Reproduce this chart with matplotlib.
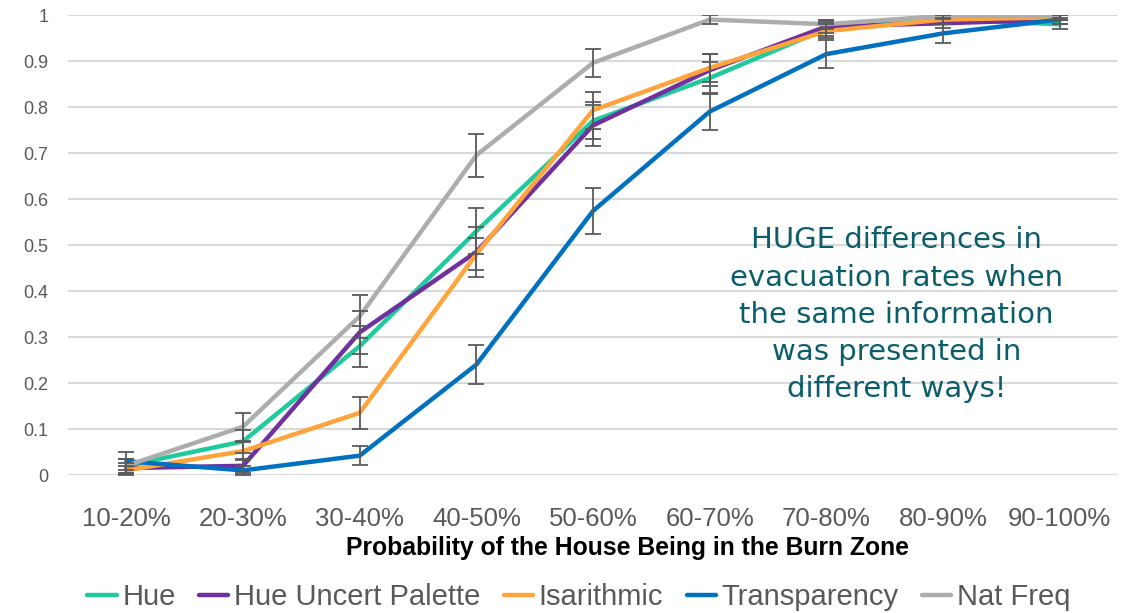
import matplotlib
matplotlib.use("Agg")
import matplotlib.pyplot as plt
from matplotlib.lines import Line2D

categories = ["10-20%", "20-30%", "30-40%", "40-50%", "50-60%",
              "60-70%", "70-80%", "80-90%", "90-100%"]

hue = [0.020, 0.073, 0.280, 0.530, 0.770, 0.863, 0.970, 0.990, 0.980]
hue_err = [0.015, 0.025, 0.045, 0.050, 0.040, 0.035, 0.015, 0.010, 0.010]

hue_uncert = [0.015, 0.020, 0.310, 0.485, 0.760, 0.880, 0.975, 0.982, 0.990]
hue_uncert_err = [0.012, 0.015, 0.047, 0.055, 0.045, 0.035, 0.015, 0.010, 0.010]

isarithmic = [0.010, 0.052, 0.135, 0.480, 0.793, 0.885, 0.965, 0.990, 0.995]
isarithmic_err = [0.010, 0.020, 0.035, 0.035, 0.040, 0.030, 0.015, 0.010, 0.005]

transparency = [0.030, 0.010, 0.042, 0.240, 0.574, 0.790, 0.915, 0.960, 0.990]
transparency_err = [0.020, 0.010, 0.020, 0.043, 0.050, 0.040, 0.030, 0.020, 0.010]

nat_freq = [0.020, 0.105, 0.345, 0.695, 0.896, 0.990, 0.980, 0.998, 0.998]
nat_freq_err = [0.015, 0.030, 0.047, 0.047, 0.030, 0.010, 0.010, 0.005, 0.005]

series_names = ["Hue", "Hue Uncert Palette", "Isarithmic", "Transparency", "Nat Freq"]
series_vals = [hue, hue_uncert, isarithmic, transparency, nat_freq]
series_errs = [hue_err, hue_uncert_err, isarithmic_err, transparency_err, nat_freq_err]
colors = ["#1fcb9c", "#7030a0", "#ffa43c", "#0070c0", "#adadad"]

y_ticks = [0, 0.1, 0.2, 0.3, 0.4, 0.5, 0.6, 0.7, 0.8, 0.9, 1]
y_tick_labels = ["0", "0.1", "0.2", "0.3", "0.4", "0.5", "0.6", "0.7", "0.8", "0.9", "1"]

note = ("HUGE differences in\nevacuation rates when\nthe same information\n"
        "was presented in\ndifferent ways!")

TEXT_GREY = "#595959"
SANS = ["Liberation Sans", "DejaVu Sans"]

fig = plt.figure(figsize=(11.27, 6.13), dpi=100)
ax = fig.add_axes([68 / 1127, 1 - 475 / 613, (1118 - 68) / 1127, (475 - 15) / 613])

x = list(range(len(categories)))
for name, vals, errs, col in zip(series_names, series_vals, series_errs, colors):
    ax.plot(x, vals, color=col, lw=3.2, solid_capstyle="round",
            solid_joinstyle="round", zorder=3)
    ax.errorbar(x, vals, yerr=errs, fmt="none", ecolor="#5a5a5a",
                elinewidth=1.3, capsize=5.5, capthick=1.3, zorder=4)

ax.set_xlim(-0.5, len(categories) - 0.5)
ax.set_ylim(0, 1)
ax.set_yticks(y_ticks)
ax.set_yticklabels(y_tick_labels, fontsize=13, color=TEXT_GREY, family=SANS)
ax.set_xticks(x)
ax.set_xticklabels(categories, fontsize=18.5, color=TEXT_GREY, family=SANS)
ax.tick_params(axis="both", length=0)
ax.tick_params(axis="y", pad=14)
ax.tick_params(axis="x", pad=23)
ax.grid(axis="y", color="#d9d9d9", lw=1.5, zorder=0)
ax.set_axisbelow(True)
for sp in ax.spines.values():
    sp.set_visible(False)

ax.set_xlabel("Probability of the House Being in the Burn Zone",
              fontsize=17.8, fontweight="bold", color="black", family=SANS,
              labelpad=6)
ax.xaxis.set_label_coords((628 - 68) / 1050, -(548 - 475) / 460)
ax.xaxis.label.set_va("center")

ax.text(6.6, 0.348, note, ha="center", va="center", fontsize=21,
        color="#0b5d6b", linespacing=1.42, family="DejaVu Sans", zorder=5)

handles = [Line2D([0], [0], color=c, lw=3.2, solid_capstyle="round") for c in colors]
fig.legend(handles, series_names, loc="center",
           bbox_to_anchor=(579 / 1127, 1 - 597 / 613),
           ncol=5, frameon=False, handlelength=1.0, handletextpad=0.2,
           columnspacing=0.8, prop={"family": SANS, "size": 21},
           labelcolor=TEXT_GREY)

fig.savefig("out.png", dpi=100)
